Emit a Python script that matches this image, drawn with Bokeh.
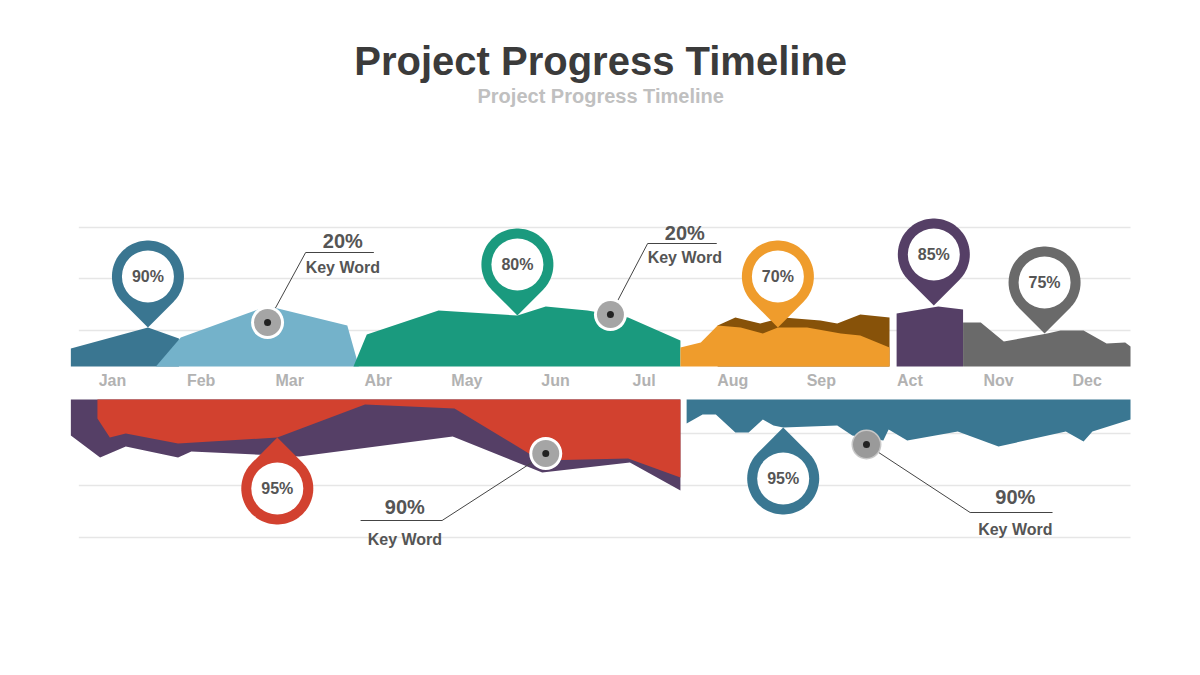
import numpy as np
from bokeh.plotting import figure
from bokeh.core.properties import value
from bokeh.embed import file_html
from bokeh.resources import INLINE

# ---------------- data ----------------
months = ["Jan", "Feb", "Mar", "Abr", "May", "Jun", "Jul", "Aug", "Sep", "Act", "Nov", "Dec"]

# upper band: x in month units, height above baseline
jan_x = [-0.47, 0.40, 0.75]
jan_h = [18, 39, 28]
feb_x = [0.49, 0.77, 1.64, 1.82, 2.65, 2.78]
feb_h = [0, 29, 57, 59, 41, 0]
green_x = [2.72, 2.87, 3.68, 4.57, 4.89, 5.36, 5.82, 6.41]
green_h = [0, 32, 56, 51, 60, 56, 49, 26]
brown_x = [6.83, 7.03, 7.31, 7.57, 7.99, 8.18, 8.44, 8.77]
brown_h = [41, 49, 43, 49, 46, 43, 52, 49]
orange_x = [6.41, 6.64, 6.83, 7.09, 7.34, 7.51, 7.84, 8.22, 8.44, 8.77]
orange_h = [19, 24, 41, 39, 33, 39, 39, 33, 31, 19]
purple_x = [8.85, 9.32, 9.60]
purple_h = [53, 60, 57]
gray_x = [9.60, 9.80, 10.06, 10.55, 10.70, 10.96, 11.22, 11.43, 11.49]
gray_h = [44, 44, 25, 33, 36, 36, 23, 24, 20]

# lower band: depth below band top
back_x = [-0.47, -0.14, 0.15, 0.74, 0.89, 2.11, 3.84, 4.85, 5.84, 6.41]
back_d = [36, 58, 47, 58, 52, 57, 37, 73, 63, 91]
red_x = [-0.17, -0.03, 0.15, 0.74, 1.86, 2.85, 3.86, 4.83, 5.82, 6.41]
red_d = [19, 38, 34, 44, 38, 5, 9, 61, 59, 78]
blue_x = [6.48, 6.66, 6.81, 7.03, 7.18, 7.34, 7.46, 7.57, 8.18, 8.35, 8.70, 8.76,
          8.97, 9.54, 10.00, 10.76, 10.96, 11.06, 11.49]
blue_d = [24, 15, 15, 33, 33, 20, 26, 28, 26, 36, 41, 30, 41, 32, 47, 32, 42, 32, 20]

# pins: label, x, tip value
top_pin_labels = ["90%", "80%", "70%", "85%", "75%"]
top_pin_x = [0.40, 4.57, 7.51, 9.27, 10.52]
top_pin_h = [39, 51, 39, 61, 33]
bot_pin_labels = ["95%", "95%"]
bot_pin_x = [1.86, 7.57]
bot_pin_d = [38, 28]

# callouts: percent, label
call_pct = ["20%", "20%", "90%", "90%"]
call_word = ["Key Word"] * 4

# ---------------- styling / layout ----------------
C_JAN = "#3a7691"
C_FEB = "#74b2ca"
C_GREEN = "#1a9a7e"
C_ORANGE = "#ef9c2c"
C_BROWN = "#875209"
C_PURPLE = "#553f66"
C_GRAY = "#6a6a6a"
C_RED = "#d2412f"
C_BLUE = "#3a7792"
top_pin_colors = [C_JAN, C_GREEN, C_ORANGE, C_PURPLE, C_GRAY]
bot_pin_colors = [C_RED, C_BLUE]

W, H = 1184, 659
PX = 88.6          # pixels per month
X0 = 112 / PX      # left offset
BAND = -33         # top of lower band
FONT = value("Liberation Sans")

p = figure(width=W, height=H, output_backend="svg", toolbar_location=None,
           x_range=(-X0, -X0 + W / PX), y_range=(366 - H, 366),
           x_axis_location=None, y_axis_location=None, min_border=0)
p.grid.visible = False
p.outline_line_color = None
p.background_fill_color = "white"

# gridlines
gl_top = [36, 88, 139]
gl_bot = [-67, -119, -171]
for g in gl_top + gl_bot:
    p.segment(x0=-0.38, x1=11.49, y0=g, y1=g, line_color="#e6e6e6", line_width=1.5)

# upper areas
p.varea(x=jan_x, y1=0, y2=jan_h, fill_color=C_JAN)
p.varea(x=feb_x, y1=0, y2=feb_h, fill_color=C_FEB)
p.varea(x=green_x, y1=0, y2=green_h, fill_color=C_GREEN)
p.varea(x=brown_x, y1=0, y2=brown_h, fill_color=C_BROWN)
p.varea(x=orange_x, y1=0, y2=orange_h, fill_color=C_ORANGE)
p.varea(x=purple_x, y1=0, y2=purple_h, fill_color=C_PURPLE)
p.varea(x=gray_x, y1=0, y2=gray_h, fill_color=C_GRAY)

# lower areas
p.varea(x=back_x, y1=BAND, y2=[BAND - d for d in back_d], fill_color=C_PURPLE)
p.varea(x=red_x, y1=BAND, y2=[BAND - d for d in red_d], fill_color=C_RED)
p.varea(x=blue_x, y1=BAND, y2=[BAND - d for d in blue_d], fill_color=C_BLUE)

# month labels
p.text(x=list(range(12)), y=[-14] * 12, text=months, text_align="center",
       text_baseline="middle", text_font=FONT, text_font_style="bold",
       text_font_size="16px", text_color="#b2b2b2")


def pin(xm, tip, up, R=36, D=51):
    s = 1 if up else -1
    yc = tip + s * D
    th0 = np.arctan2(-s * D, 0)
    a = np.arccos(R / D)
    th = np.linspace(th0 + a, th0 + 2 * np.pi - a, 80)
    xs = np.concatenate([[xm], xm + R * np.cos(th) / PX, [xm]])
    ys = np.concatenate([[tip], yc + R * np.sin(th), [tip]])
    return xs, ys, yc


for lab, xm, h, c in zip(top_pin_labels, top_pin_x, top_pin_h, top_pin_colors):
    xs, ys, yc = pin(xm, h, True)
    p.patch(xs, ys, fill_color=c, line_color=None)
    p.scatter([xm], [yc], size=52, fill_color="white", line_color=None)
    p.text([xm], [yc], text=[lab], text_align="center", text_baseline="middle",
           text_font=FONT, text_font_style="bold", text_font_size="16px",
           text_color="#555555")

for lab, xm, d, c in zip(bot_pin_labels, bot_pin_x, bot_pin_d, bot_pin_colors):
    xs, ys, yc = pin(xm, BAND - d, False)
    p.patch(xs, ys, fill_color=c, line_color=None)
    p.scatter([xm], [yc], size=52, fill_color="white", line_color=None)
    p.text([xm], [yc], text=[lab], text_align="center", text_baseline="middle",
           text_font=FONT, text_font_style="bold", text_font_size="16px",
           text_color="#555555")

# callouts: circle pos, elbow, line end, text x, pct y, word y
callouts = [
    (1.75, 44, 2.18, 114, 2.95, 2.60, 126, 99, True),
    (5.62, 52, 6.04, 123, 6.82, 6.46, 134, 109, True),
    (4.89, -87, 3.72, -154, 2.80, 3.30, -140, -173, True),
    (8.51, -78, 9.68, -146, 10.61, 10.19, -130, -163, False),
]
for (cx, cy, ex, ey, lx, tx, py, wy, ring), pct, word in zip(callouts, call_pct, call_word):
    p.line([cx, ex, lx], [cy, ey, ey], line_color="#444444", line_width=1)
    if ring:
        p.scatter([cx], [cy], size=33, fill_color="white", line_color=None)
    else:
        p.scatter([cx], [cy], size=30, fill_color="#c8c8c8", line_color=None)
    p.scatter([cx], [cy], size=27, fill_color="#8f8f8f", fill_alpha=0.8, line_color=None)
    p.scatter([cx], [cy], size=7, fill_color="#222222", line_color=None)
    p.text([tx], [py], text=[pct], text_align="center", text_baseline="middle",
           text_font=FONT, text_font_style="bold", text_font_size="20px",
           text_color="#555555")
    p.text([tx], [wy], text=[word], text_align="center", text_baseline="middle",
           text_font=FONT, text_font_style="bold", text_font_size="16px",
           text_color="#555555")

# titles
p.text([5.51], [306], text=["Project Progress Timeline"], text_align="center",
       text_baseline="middle", text_font=FONT, text_font_style="bold",
       text_font_size="40px", text_color="#3b3b3b")
p.text([5.51], [271], text=["Project Progress Timeline"], text_align="center",
       text_baseline="middle", text_font=FONT, text_font_style="bold",
       text_font_size="20px", text_color="#c0c0c0")

open("out.html", "w").write(file_html(p, INLINE))
